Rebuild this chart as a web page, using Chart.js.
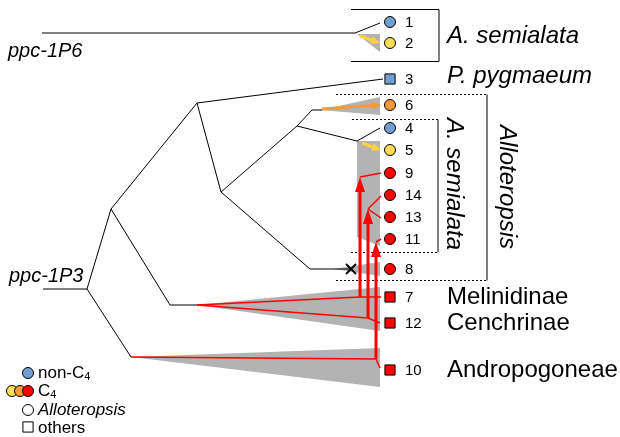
<!DOCTYPE html>
<html>
<head>
<meta charset="utf-8">
<script src="https://cdn.jsdelivr.net/npm/chart.js@4.4.1/dist/chart.umd.min.js"></script>
<style>
  body { margin: 0; background: #fff; overflow: hidden; }
  canvas { display: block; }
</style>
</head>
<body>
<canvas id="canvas" width="620" height="437"></canvas>
<script>
// tips of the ppc tree (row = vertical position, in canvas units)
var tipLabels = ['1', '2', '3', '6', '4', '5', '9', '14', '13', '11', '8', '7', '12', '10'];
var tipRow    = [22, 43, 79, 105, 128, 150, 173, 195, 217, 239, 269, 297, 323, 370];
var tipState  = ['non', 'yel', 'non', 'ora', 'non', 'yel', 'red', 'red', 'red', 'red', 'red', 'red', 'red', 'red'];
var tipGroup  = ['allo', 'allo', 'other', 'allo', 'allo', 'allo', 'allo', 'allo', 'allo', 'allo', 'allo', 'other', 'other', 'other'];
var tipX = 390;

// branches [x1, y1, x2, y2]
var blackBranches = [
  [42, 33, 355, 33], [355, 33, 380, 23],
  [43, 289, 87, 289], [87, 289, 111, 209], [87, 289, 131, 357],
  [111, 209, 197, 103], [111, 209, 170, 305], [170, 305, 197, 305],
  [197, 103, 383, 79], [197, 103, 221, 192],
  [221, 192, 297, 126], [221, 192, 310, 269], [310, 269, 351, 269],
  [297, 126, 312, 110], [312, 110, 322, 110],
  [297, 126, 357, 141], [357, 141, 380, 128]
];
var c4Branches = [
  [131, 357, 376, 359], [376, 359, 380, 368],
  [197, 305, 360, 297], [360, 297, 381, 297],
  [197, 305, 368, 318], [368, 318, 380, 323],
  [360, 177, 381, 173], [368, 209, 381, 196], [368, 209, 381, 218], [376, 242, 381, 239]
];
// lateral transfers (thick red arrows) and C4 origins (coloured arrows)
var transfers = [[360, 297, 360, 177], [368, 318, 368, 209], [376, 359, 376, 242]];
var origins = [[360, 36, 380, 43, 'yel'], [362, 143, 381, 150, 'yel'], [322, 109, 381, 105, 'ora']];
var lossMark = [351, 269];

// grey clade wedges
var wedges = [
  [[357, 34], [380, 34], [380, 52]],
  [[320, 110], [380, 97], [380, 115]],
  [[357, 141], [380, 141], [380, 246], [357, 237]],
  [[333, 269], [380, 262], [380, 276]],
  [[197, 305], [380, 287], [380, 331]],
  [[131, 357], [380, 348], [380, 387]]
];

// group boxes
var solidLines = [[351, 9, 439, 9], [439, 9, 439, 61], [351, 61, 439, 61],
  [487, 94, 487, 280], [438, 119, 438, 252]];
var dottedLines = [[336, 94, 487, 94], [336, 280, 487, 280], [352, 119, 438, 119], [351, 252, 438, 252]];

var colors = { non: '#729fcf', yel: '#ffdd55', ora: '#f8993a', red: '#ff0000' };
var arrowColors = { yel: '#ffd23f', ora: '#f8993a' };

var FONT = '"Liberation Sans", Arial, sans-serif';

function seg(b, color, width) {
  return {
    type: 'scatter', showLine: true,
    data: [{ x: b[0], y: b[1] }, { x: b[2], y: b[3] }],
    borderColor: color, borderWidth: width, pointRadius: 0, fill: false, tension: 0
  };
}

var datasets = [];
blackBranches.forEach(function (b) { datasets.push(seg(b, '#000', 1)); });
c4Branches.forEach(function (b) { datasets.push(seg(b, '#ff0000', 1.5)); });

datasets.push({
  type: 'scatter',
  data: tipRow.map(function (y) { return { x: tipX, y: y }; }),
  pointStyle: tipGroup.map(function (g) { return g == 'allo' ? 'circle' : 'rect'; }),
  pointRadius: tipGroup.map(function (g) { return g == 'allo' ? 5.5 : 7.2; }),
  backgroundColor: tipState.map(function (s) { return colors[s]; }),
  borderColor: '#000', borderWidth: 1
});

// legend markers
datasets.push({
  type: 'scatter',
  data: [{ x: 12, y: 391 }, { x: 20, y: 391 }, { x: 28, y: 391 }, { x: 28, y: 373 }, { x: 28, y: 410 }, { x: 28, y: 427 }],
  pointStyle: ['circle', 'circle', 'circle', 'circle', 'circle', 'rect'],
  pointRadius: [5.5, 5.5, 5.5, 5.5, 5.5, 7.2],
  backgroundColor: [colors.yel, colors.ora, colors.red, colors.non, '#fff', '#fff'],
  borderColor: '#000', borderWidth: 1
});

function arrow(ctx, x1, y1, x2, y2, color, w, hl, hw) {
  var a = Math.atan2(y2 - y1, x2 - x1);
  var bx = x2 - hl * Math.cos(a), by = y2 - hl * Math.sin(a);
  ctx.strokeStyle = color; ctx.fillStyle = color; ctx.lineWidth = w;
  ctx.beginPath(); ctx.moveTo(x1, y1); ctx.lineTo(bx, by); ctx.stroke();
  ctx.beginPath();
  ctx.moveTo(x2, y2);
  ctx.lineTo(bx + hw / 2 * Math.sin(a), by - hw / 2 * Math.cos(a));
  ctx.lineTo(bx - hw / 2 * Math.sin(a), by + hw / 2 * Math.cos(a));
  ctx.closePath(); ctx.fill();
}

function subText(ctx, main, sub, x, y, size) {
  ctx.font = size + 'px ' + FONT;
  ctx.fillText(main, x, y);
  var w = ctx.measureText(main).width;
  ctx.font = Math.round(size * 0.62) + 'px ' + FONT;
  ctx.fillText(sub, x + w, y + size * 0.25);
}

var treePlugin = {
  id: 'tree',
  beforeDatasetsDraw: function (chart) {
    var ctx = chart.ctx, sx = chart.scales.x, sy = chart.scales.y;
    var px = function (v) { return sx.getPixelForValue(v); };
    var py = function (v) { return sy.getPixelForValue(v); };
    ctx.save();
    ctx.fillStyle = '#b3b3b3';
    wedges.forEach(function (p) {
      ctx.beginPath();
      p.forEach(function (pt, i) { if (i == 0) ctx.moveTo(px(pt[0]), py(pt[1])); else ctx.lineTo(px(pt[0]), py(pt[1])); });
      ctx.closePath(); ctx.fill();
    });
    ctx.strokeStyle = '#000'; ctx.lineWidth = 1;
    solidLines.forEach(function (l) {
      ctx.beginPath(); ctx.moveTo(px(l[0]), py(l[1]) + 0.5); ctx.lineTo(px(l[2]), py(l[3]) + 0.5); ctx.stroke();
    });
    ctx.setLineDash([2, 2]);
    dottedLines.forEach(function (l) {
      ctx.beginPath(); ctx.moveTo(px(l[0]), py(l[1]) + 0.5); ctx.lineTo(px(l[2]), py(l[3]) + 0.5); ctx.stroke();
    });
    ctx.setLineDash([]);
    transfers.forEach(function (t) {
      arrow(ctx, px(t[0]), py(t[1]), px(t[2]), py(t[3]), '#ff0000', 3, 15, 10);
    });
    origins.forEach(function (o) {
      arrow(ctx, px(o[0]), py(o[1]), px(o[2]), py(o[3]), arrowColors[o[4]], 3, 9, 8);
    });
    // loss of the transferred fragment
    var mx = px(lossMark[0]), my = py(lossMark[1]);
    ctx.strokeStyle = '#000'; ctx.lineWidth = 1.8;
    ctx.beginPath();
    ctx.moveTo(mx - 5, my - 5); ctx.lineTo(mx + 5, my + 5);
    ctx.moveTo(mx + 5, my - 5); ctx.lineTo(mx - 5, my + 5);
    ctx.stroke();
    ctx.restore();
  },
  afterDatasetsDraw: function (chart) {
    var ctx = chart.ctx, sx = chart.scales.x, sy = chart.scales.y;
    var px = function (v) { return sx.getPixelForValue(v); };
    var py = function (v) { return sy.getPixelForValue(v); };
    ctx.save();
    ctx.fillStyle = '#000';
    ctx.textBaseline = 'middle';
    ctx.font = '15px ' + FONT;
    tipLabels.forEach(function (t, i) { ctx.fillText(t, px(405), py(tipRow[i]) + 1); });

    ctx.textBaseline = 'alphabetic';
    ctx.font = 'italic 20px ' + FONT;
    ctx.fillText('ppc-1P6', px(8), py(57));
    ctx.fillText('ppc-1P3', px(9), py(282));
    ctx.font = 'italic 24px ' + FONT;
    ctx.fillText('A. semialata', px(447), py(43));
    ctx.fillText('P. pygmaeum', px(447), py(83));
    ctx.font = '24px ' + FONT;
    ctx.fillText('Melinidinae', px(447), py(304));
    ctx.fillText('Cenchrinae', px(447), py(330));
    ctx.fillText('Andropogoneae', px(447), py(377));

    ctx.font = 'italic 24px ' + FONT;
    ctx.save();
    ctx.translate(px(447), py(118)); ctx.rotate(Math.PI / 2);
    ctx.fillText('A. semialata', 0, 0);
    ctx.restore();
    ctx.save();
    ctx.translate(px(500), py(125)); ctx.rotate(Math.PI / 2);
    ctx.fillText('Alloteropsis', 0, 0);
    ctx.restore();

    // legend
    ctx.textBaseline = 'middle';
    subText(ctx, 'non-C', '4', px(38), py(373), 17);
    subText(ctx, 'C', '4', px(38), py(391), 17);
    ctx.font = 'italic 17px ' + FONT;
    ctx.fillText('Alloteropsis', px(38), py(410));
    ctx.font = '17px ' + FONT;
    ctx.fillText('others', px(38), py(428));
    ctx.restore();
  }
};

var ctxL = document.getElementById('canvas').getContext('2d');
var mychart = new Chart(ctxL, {
  type: 'scatter',
  data: { datasets: datasets },
  options: {
    responsive: false,
    animation: false,
    events: [],
    layout: { padding: 0, autoPadding: false },
    plugins: { legend: { display: false }, tooltip: { enabled: false } },
    scales: {
      x: { type: 'linear', min: 0, max: 620, display: false },
      y: { type: 'linear', min: 0, max: 437, reverse: true, display: false }
    }
  },
  plugins: [treePlugin]
});
</script>
</body>
</html>
